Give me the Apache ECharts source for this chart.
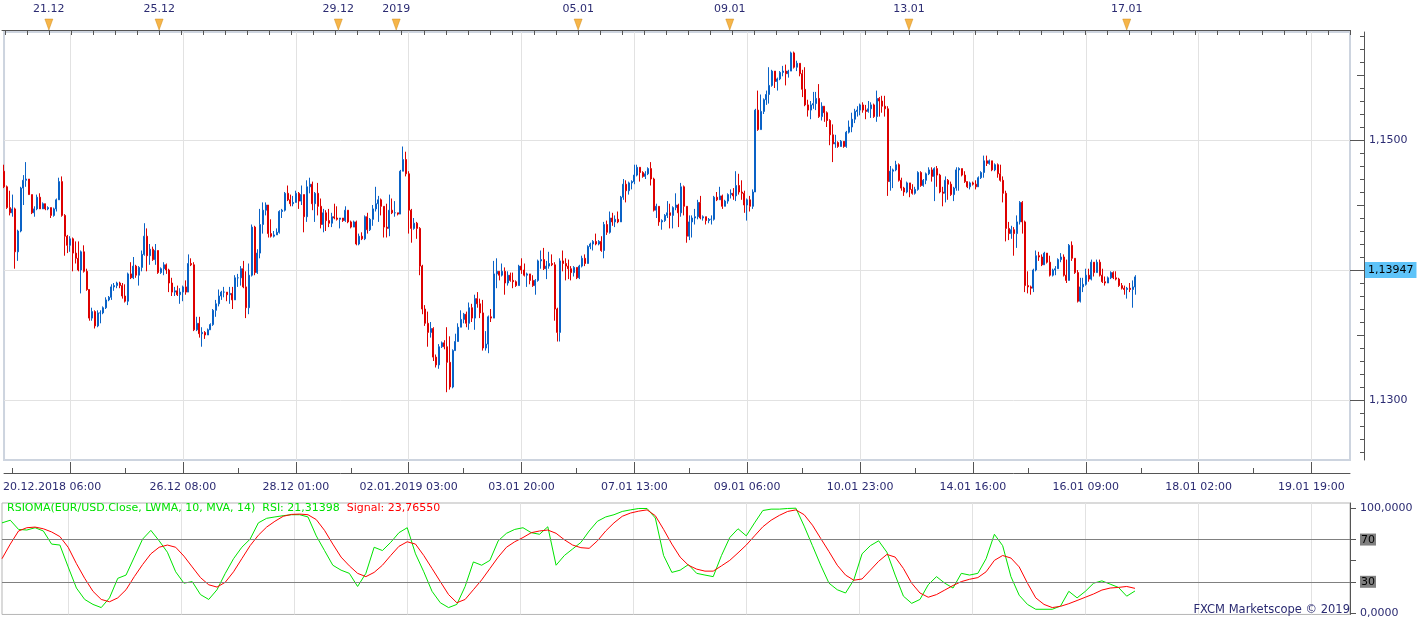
<!DOCTYPE html>
<html>
<head>
<meta charset="utf-8">
<title>EUR/USD H1 - RSIOMA</title>
<script src="https://cdn.jsdelivr.net/npm/echarts@6/dist/echarts.min.js"></script>
<style>
  html, body { margin: 0; padding: 0; background: #fff; }
  #chart { width: 1423px; height: 619px; }
</style>
</head>
<body>
<div id="chart"></div>
<script>
// hourly EUR/USD bars; open of each bar = close of the bar before
const firstOpen = 1.1476;
const closes = [
  1.1464,1.1448,1.1444,1.1447,1.1414,1.1430,1.1463,1.1469,1.1470,1.1458,
  1.1444,1.1447,1.1456,1.1447,1.1451,1.1447,1.1448,1.1442,1.1447,1.1454,
  1.1468,1.1442,1.1426,1.1419,1.1424,1.1413,1.1409,1.1400,1.1414,1.1399,
  1.1385,1.1363,1.1368,1.1357,1.1367,1.1367,1.1371,1.1377,1.1379,1.1387,
  1.1388,1.1390,1.1388,1.1380,1.1376,1.1397,1.1394,1.1403,1.1396,1.1402,
  1.1412,1.1426,1.1411,1.1416,1.1408,1.1415,1.1398,1.1401,1.1404,1.1400,
  1.1390,1.1383,1.1384,1.1381,1.1383,1.1387,1.1383,1.1405,1.1404,1.1354,
  1.1359,1.1351,1.1352,1.1350,1.1354,1.1358,1.1369,1.1374,1.1380,1.1383,
  1.1383,1.1381,1.1382,1.1377,1.1394,1.1394,1.1401,1.1387,1.1371,1.1396,
  1.1433,1.1398,1.1413,1.1435,1.1446,1.1450,1.1428,1.1426,1.1427,1.1429,
  1.1445,1.1446,1.1459,1.1454,1.1451,1.1452,1.1459,1.1453,1.1458,1.1441,
  1.1464,1.1466,1.1451,1.1459,1.1449,1.1435,1.1444,1.1438,1.1436,1.1441,
  1.1440,1.1439,1.1440,1.1438,1.1446,1.1437,1.1433,1.1437,1.1420,1.1426,
  1.1424,1.1441,1.1431,1.1439,1.1447,1.1451,1.1454,1.1449,1.1433,1.1432,
  1.1446,1.1444,1.1444,1.1443,1.1476,1.1485,1.1474,1.1446,1.1432,1.1436,
  1.1432,1.1403,1.1370,1.1359,1.1352,1.1355,1.1333,1.1327,1.1341,1.1344,
  1.1341,1.1329,1.1310,1.1338,1.1345,1.1356,1.1362,1.1366,1.1359,1.1371,
  1.1363,1.1378,1.1374,1.1367,1.1340,1.1343,1.1364,1.1363,1.1397,1.1399,
  1.1396,1.1399,1.1390,1.1396,1.1392,1.1391,1.1388,1.1403,1.1400,1.1396,
  1.1397,1.1392,1.1388,1.1392,1.1407,1.1408,1.1401,1.1403,1.1405,1.1404,
  1.1370,1.1352,1.1407,1.1405,1.1403,1.1401,1.1398,1.1402,1.1394,1.1403,
  1.1409,1.1405,1.1418,1.1420,1.1422,1.1420,1.1422,1.1415,1.1435,1.1429,
  1.1440,1.1437,1.1439,1.1437,1.1456,1.1466,1.1461,1.1467,1.1468,1.1473,
  1.1479,1.1475,1.1472,1.1474,1.1478,1.1470,1.1446,1.1449,1.1437,1.1438,
  1.1442,1.1444,1.1442,1.1448,1.1450,1.1444,1.1464,1.1449,1.1426,1.1437,
  1.1440,1.1441,1.1452,1.1440,1.1441,1.1438,1.1439,1.1439,1.1456,1.1454,
  1.1457,1.1449,1.1453,1.1458,1.1459,1.1457,1.1465,1.1460,1.1459,1.1450,
  1.1454,1.1449,1.1460,1.1523,1.1508,1.1522,1.1531,1.1535,1.1542,1.1553,
  1.1545,1.1547,1.1552,1.1553,1.1551,1.1553,1.1567,1.1556,1.1559,1.1551,
  1.1539,1.1527,1.1523,1.1527,1.1528,1.1532,1.1518,1.1526,1.1521,1.1515,
  1.1504,1.1497,1.1498,1.1495,1.1499,1.1495,1.1506,1.1510,1.1516,1.1522,
  1.1523,1.1527,1.1523,1.1522,1.1524,1.1527,1.1518,1.1532,1.1530,1.1526,
  1.1524,1.1468,1.1476,1.1477,1.1481,1.1469,1.1463,1.1460,1.1467,1.1462,
  1.1459,1.1462,1.1475,1.1465,1.1469,1.1474,1.1477,1.1472,1.1478,1.1473,
  1.1460,1.1459,1.1469,1.1466,1.1458,1.1463,1.1477,1.1478,1.1473,1.1468,
  1.1464,1.1467,1.1466,1.1464,1.1471,1.1475,1.1484,1.1482,1.1484,1.1477,
  1.1481,1.1474,1.1469,1.1459,1.1432,1.1428,1.1431,1.1428,1.1437,1.1452,
  1.1437,1.1388,1.1387,1.1386,1.1400,1.1411,1.1410,1.1404,1.1413,1.1406,
  1.1396,1.1400,1.1401,1.1408,1.1410,1.1396,1.1392,1.1419,1.1409,1.1398,
  1.1376,1.1387,1.1389,1.1396,1.1393,1.1406,1.1398,1.1406,1.1396,1.1391,
  1.1390,1.1394,1.1398,1.1394,1.1393,1.1388,1.1386,1.1385,1.1386,1.1385,
  1.1387,1.13947
];
const highs = [
  1.1481,1.1465,1.1461,1.1458,1.1448,1.1431,1.1464,1.1473,1.1483,1.1470,
  1.1458,1.1449,1.1458,1.1459,1.1452,1.1451,1.1449,1.1448,1.1448,1.1455,
  1.1471,1.1472,1.1443,1.1427,1.1426,1.1425,1.1422,1.1422,1.1415,1.1419,
  1.1401,1.1385,1.1371,1.1369,1.1369,1.1369,1.1372,1.1379,1.1380,1.1389,
  1.1390,1.1391,1.1391,1.1390,1.1389,1.1398,1.1406,1.1410,1.1404,1.1403,
  1.1415,1.1436,1.1432,1.1420,1.1418,1.1420,1.1415,1.1402,1.1406,1.1405,
  1.1401,1.1394,1.1387,1.1388,1.1386,1.1388,1.1392,1.1412,1.1409,1.1406,
  1.1364,1.1364,1.1356,1.1353,1.1355,1.1359,1.1370,1.1377,1.1385,1.1384,
  1.1387,1.1383,1.1387,1.1387,1.1396,1.1397,1.1403,1.1407,1.1399,1.1405,
  1.1435,1.1434,1.1416,1.1447,1.1452,1.1452,1.1447,1.1439,1.1430,1.1432,
  1.1446,1.1447,1.1460,1.1465,1.1458,1.1457,1.1461,1.1460,1.1465,1.1457,
  1.1469,1.1471,1.1468,1.1460,1.1467,1.1455,1.1447,1.1446,1.1447,1.1444,
  1.1451,1.1449,1.1440,1.1440,1.1449,1.1446,1.1438,1.1438,1.1438,1.1428,
  1.1429,1.1442,1.1444,1.1440,1.1450,1.1464,1.1457,1.1455,1.1447,1.1451,
  1.1458,1.1455,1.1453,1.1444,1.1477,1.1495,1.1491,1.1476,1.1447,1.1440,
  1.1437,1.1433,1.1404,1.1373,1.1368,1.1360,1.1356,1.1335,1.1343,1.1345,
  1.1346,1.1356,1.1349,1.1339,1.1351,1.1359,1.1369,1.1367,1.1368,1.1375,
  1.1374,1.1381,1.1383,1.1378,1.1377,1.1353,1.1365,1.1370,1.1407,1.1409,
  1.1399,1.1405,1.1402,1.1399,1.1398,1.1398,1.1392,1.1404,1.1409,1.1405,
  1.1398,1.1397,1.1396,1.1393,1.1408,1.1415,1.1417,1.1407,1.1414,1.1412,
  1.1406,1.1371,1.1409,1.1415,1.1409,1.1408,1.1403,1.1403,1.1402,1.1404,
  1.1411,1.1412,1.1419,1.1421,1.1423,1.1428,1.1423,1.1426,1.1437,1.1438,
  1.1445,1.1444,1.1442,1.1445,1.1457,1.1470,1.1469,1.1468,1.1469,1.1481,
  1.1481,1.1479,1.1476,1.1476,1.1479,1.1483,1.1471,1.1451,1.1449,1.1439,
  1.1443,1.1453,1.1451,1.1449,1.1459,1.1451,1.1467,1.1465,1.1449,1.1442,
  1.1442,1.1447,1.1454,1.1457,1.1442,1.1441,1.1440,1.1442,1.1457,1.1460,
  1.1464,1.1458,1.1454,1.1459,1.1462,1.1463,1.1476,1.1474,1.1469,1.1461,
  1.1455,1.1457,1.1462,1.1524,1.1538,1.1535,1.1532,1.1538,1.1556,1.1554,
  1.1553,1.1548,1.1553,1.1557,1.1558,1.1554,1.1568,1.1568,1.1561,1.1559,
  1.1554,1.1556,1.1531,1.1530,1.1537,1.1537,1.1543,1.1529,1.1526,1.1522,
  1.1516,1.1512,1.1504,1.1499,1.1500,1.1499,1.1507,1.1515,1.1521,1.1524,
  1.1526,1.1528,1.1529,1.1527,1.1530,1.1529,1.1528,1.1538,1.1533,1.1534,
  1.1534,1.1526,1.1480,1.1478,1.1484,1.1482,1.1471,1.1464,1.1468,1.1463,
  1.1466,1.1464,1.1476,1.1476,1.1470,1.1475,1.1479,1.1479,1.1479,1.1480,
  1.1474,1.1464,1.1472,1.1470,1.1468,1.1464,1.1479,1.1479,1.1478,1.1476,
  1.1468,1.1468,1.1468,1.1469,1.1472,1.1476,1.1488,1.1488,1.1485,1.1484,
  1.1482,1.1482,1.1481,1.1472,1.1461,1.1437,1.1434,1.1433,1.1442,1.1453,
  1.1453,1.1438,1.1399,1.1388,1.1401,1.1415,1.1414,1.1412,1.1414,1.1413,
  1.1411,1.1401,1.1403,1.1409,1.1413,1.1412,1.1408,1.1420,1.1422,1.1409,
  1.1400,1.1394,1.1394,1.1401,1.1401,1.1408,1.1406,1.1408,1.1408,1.1401,
  1.1395,1.1395,1.1399,1.1399,1.1399,1.1394,1.1390,1.1388,1.1387,1.1390,
  1.1392,1.1396
];
const lows = [
  1.1463,1.1447,1.1442,1.1441,1.1401,1.1407,1.1429,1.1450,1.1464,1.1458,
  1.1443,1.1441,1.1446,1.1447,1.1447,1.1446,1.1446,1.1440,1.1441,1.1445,
  1.1454,1.1441,1.1411,1.1413,1.1414,1.1399,1.1405,1.1399,1.1382,1.1398,
  1.1384,1.1361,1.1361,1.1355,1.1356,1.1359,1.1366,1.1370,1.1376,1.1377,
  1.1384,1.1386,1.1386,1.1378,1.1375,1.1373,1.1393,1.1393,1.1394,1.1388,
  1.1399,1.1411,1.1399,1.1404,1.1407,1.1404,1.1397,1.1397,1.1396,1.1397,
  1.1383,1.1380,1.1380,1.1380,1.1374,1.1376,1.1381,1.1383,1.1403,1.1353,
  1.1353,1.1348,1.1341,1.1347,1.1350,1.1354,1.1357,1.1364,1.1372,1.1377,
  1.1379,1.1376,1.1374,1.1370,1.1377,1.1387,1.1388,1.1386,1.1363,1.1366,
  1.1395,1.1396,1.1397,1.1409,1.1428,1.1442,1.1425,1.1425,1.1425,1.1427,
  1.1428,1.1440,1.1445,1.1453,1.1449,1.1449,1.1452,1.1447,1.1450,1.1429,
  1.1437,1.1459,1.1446,1.1437,1.1442,1.1432,1.1429,1.1430,1.1433,1.1433,
  1.1439,1.1438,1.1432,1.1437,1.1437,1.1436,1.1432,1.1433,1.1419,1.1419,
  1.1423,1.1423,1.1428,1.1430,1.1434,1.1445,1.1437,1.1442,1.1425,1.1425,
  1.1426,1.1443,1.1441,1.1442,1.1443,1.1476,1.1472,1.1428,1.1421,1.1431,
  1.1424,1.1396,1.1366,1.1357,1.1341,1.1348,1.1330,1.1325,1.1324,1.1340,
  1.1339,1.1306,1.1308,1.1309,1.1338,1.1345,1.1356,1.1359,1.1356,1.1354,
  1.1360,1.1354,1.1371,1.1363,1.1338,1.1338,1.1336,1.1360,1.1363,1.1386,
  1.1392,1.1395,1.1381,1.1388,1.1391,1.1386,1.1387,1.1388,1.1397,1.1395,
  1.1387,1.1389,1.1387,1.1381,1.1391,1.1401,1.1400,1.1393,1.1401,1.1403,
  1.1361,1.1345,1.1345,1.1399,1.1392,1.1393,1.1392,1.1395,1.1393,1.1393,
  1.1402,1.1403,1.1407,1.1416,1.1415,1.1419,1.1419,1.1414,1.1409,1.1427,
  1.1428,1.1434,1.1433,1.1436,1.1437,1.1454,1.1452,1.1458,1.1462,1.1466,
  1.1472,1.1468,1.1471,1.1470,1.1473,1.1465,1.1445,1.1440,1.1434,1.1431,
  1.1437,1.1440,1.1432,1.1432,1.1446,1.1433,1.1441,1.1442,1.1421,1.1423,
  1.1425,1.1435,1.1439,1.1439,1.1438,1.1435,1.1436,1.1435,1.1438,1.1453,
  1.1454,1.1447,1.1449,1.1451,1.1455,1.1454,1.1453,1.1458,1.1454,1.1444,
  1.1438,1.1445,1.1447,1.1460,1.1507,1.1508,1.1520,1.1527,1.1528,1.1541,
  1.1540,1.1538,1.1546,1.1549,1.1542,1.1548,1.1553,1.1555,1.1553,1.1549,
  1.1533,1.1526,1.1518,1.1516,1.1524,1.1523,1.1517,1.1515,1.1514,1.1510,
  1.1496,1.1483,1.1494,1.1494,1.1495,1.1494,1.1494,1.1505,1.1506,1.1513,
  1.1518,1.1519,1.1521,1.1516,1.1521,1.1517,1.1517,1.1514,1.1518,1.1521,
  1.1518,1.1457,1.1461,1.1463,1.1476,1.1468,1.1461,1.1457,1.1459,1.1456,
  1.1458,1.1458,1.1461,1.1464,1.1464,1.1466,1.1473,1.1468,1.1453,1.1464,
  1.1459,1.1449,1.1452,1.1454,1.1457,1.1453,1.1461,1.1461,1.1472,1.1467,
  1.1463,1.1462,1.1465,1.1462,1.1464,1.1470,1.1471,1.1480,1.1481,1.1476,
  1.1476,1.1471,1.1468,1.1452,1.1422,1.1423,1.1424,1.1411,1.1417,1.1435,
  1.1428,1.1383,1.1382,1.1381,1.1383,1.1399,1.1407,1.1403,1.1404,1.1405,
  1.1395,1.1395,1.1396,1.1401,1.1406,1.1395,1.1390,1.1392,1.1407,1.1397,
  1.1375,1.1375,1.1383,1.1388,1.1391,1.1392,1.1395,1.1398,1.1395,1.1390,
  1.1388,1.1390,1.1393,1.1393,1.1392,1.1387,1.1385,1.1381,1.1378,1.1383,
  1.1371,1.1381
];
const lastPrice = 1.13947;

// RSIOMA lines, one reading every 3 bars
const rsiStep = 3;
const rsiValues = [
  85.8,88.3,79.6,79,81.2,78.1,65.7,64.8,44.1,24.1,
  13.3,8.6,5.6,14.8,33.3,36.4,53.4,70.4,78.7,68.8,
  58,39.5,28.7,30.2,17.9,13.3,22.5,38,51.9,62.7,
  70.4,85.8,90.1,91.4,92.6,93.5,93.5,91.4,73.5,59.6,
  45.7,41,38,25.6,38,62.7,59.6,67.3,76.5,81.2,
  56.5,39.5,21,10.2,5.6,8.6,25.6,48.8,45.7,50.3,
  68.8,75.9,79.6,81.2,76.5,75,82.1,45.7,54.9,61.1,
  67.3,78.1,87.3,91.4,93.5,96.6,98.1,99.4,99.4,90.4,
  54.9,38.9,41,46.3,38,36.4,34.9,54.9,71.9,80.2,
  73.5,85.8,97.5,98.8,98.8,99.4,99.7,82.7,64.2,45.7,
  28.7,22.5,19.4,31.8,56.5,64.2,68.8,58,36.4,16.4,
  9.6,13.3,27.2,34.9,28.7,24.1,38,36.4,38,51.9,
  75,64.2,34.9,17.3,8.6,4,4,4,7.1,21,
  14.8,21,28.7,30.9,27.8,24.7,16.4,21.3
];
const signalValues = [
  51.9,65.7,78.1,81.2,81.8,80.2,77.2,72.8,62.7,47.2,
  33.3,21,13.3,11.1,14.8,22.5,34.9,46.3,56.5,62.7,
  64.8,62.7,54.3,44.1,34,27.2,25,29.6,39.5,51.9,
  64.2,74.1,81.8,87.3,92,93.8,94.1,93.5,88.9,78.7,
  65.7,53.4,45.1,38,34.9,38.9,45.7,54.9,63.6,67.9,
  65.7,54.9,42.6,30.2,17.9,10.2,13.3,22.5,31.8,42.6,
  53.4,62.7,67.9,71.9,76.5,78.1,79,75.9,69.8,64.8,
  62.3,61.7,68.8,78.1,85.8,92,95.1,96.9,98.1,92.6,
  79.6,65.7,53.4,45.7,42,40.1,40.1,45.1,50.3,57.4,
  64.8,73.5,82.1,88.3,92.9,96.6,98.1,93.5,83.6,71,
  58.6,45.7,36.4,31.5,32.7,41,49.4,55.9,53.4,42.6,
  28.7,19.4,15.4,17.9,22.2,26.5,30.2,32.4,34,39.5,
  50.3,54.9,52.5,44.1,28.7,14.8,8.6,5.6,6.8,9.3,
  12.3,15.4,18.5,22.2,24.1,24.7,25.6,23.8
];

const timeLabels = ['20.12.2018 06:00', '26.12 08:00', '28.12 01:00', '02.01.2019 03:00', '03.01 20:00',
  '07.01 13:00', '09.01 06:00', '10.01 23:00', '14.01 16:00', '16.01 09:00', '18.01 02:00', '19.01 19:00'];
const dayIdx = [17, 57, 122, 143, 209, 264, 329, 408];
const dayLabels = ['21.12', '25.12', '29.12', '2019', '05.01', '09.01', '13.01', '17.01'];
const priceLabels = [1.13, 1.14, 1.15];
const priceMidTicks = [1.135, 1.145, 1.155];
const rsiLabels = [0, 30, 70, 100];
const rsiTicks = [0, 30, 50, 70, 100];

const slots = 490; // visible hourly slots, incl. empty future ones
const firstGrid = 24, gridStep = 41;

const slotData = [];
for (let i = 0; i < slots; i++) slotData.push(String(i));

const priceMinorTicks = [];
for (let v = 1126; v <= 1158; v++) priceMinorTicks.push(v / 1000);

const ohlc = closes.map((c, i) => {
  const o = i ? closes[i - 1] : firstOpen;
  return [o, c, Math.min(lows[i], o, c), Math.max(highs[i], o, c)];
});

const isMajor = (i) => i >= firstGrid && (i - firstGrid) % gridStep === 0;
const isMinor = (i) => ((i - firstGrid - 20) % gridStep + gridStep) % gridStep === 0;

const font = 'DejaVu Sans, Verdana, sans-serif';
const navy = '#2b2b72';
const axisGray = '#555555';
const gridGray = '#e2e2e2';
const up = '#0a62c6', down = '#dd0000';

const chart = echarts.init(document.getElementById('chart'));
chart.setOption({
  animation: false,
  backgroundColor: '#ffffff',
  textStyle: { fontFamily: font },
  title: [
    {
      text: '{g|RSIOMA(EUR/USD.Close, LWMA, 10, MVA, 14)  RSI: 21,31398}{r|  Signal: 23,76550}',
      left: 7, top: 503, padding: 0,
      textStyle: {
        fontSize: 11, fontWeight: 'normal', fontFamily: font,
        rich: {
          g: { color: '#00e000', fontSize: 11, fontFamily: font },
          r: { color: '#ff0000', fontSize: 11, fontFamily: font }
        }
      }
    },
    {
      text: 'FXCM Marketscope \u00a9 2019',
      right: 73, bottom: 3, padding: 0,
      textStyle: { color: navy, fontSize: 11.5, fontWeight: 'normal', fontFamily: font }
    }
  ],
  grid: [
    { left: 2, right: 73, top: 32, height: 428, show: true, borderColor: '#cdd4df', borderWidth: 2 },
    { left: 2, right: 73, top: 19, height: 11 },
    { left: 2, right: 73, top: 503, height: 114, show: true, borderColor: '#b5b5b5', borderWidth: 1 }
  ],
  xAxis: [
    {
      type: 'category', gridIndex: 0, data: slotData, boundaryGap: false, position: 'bottom', offset: 13,
      axisLine: { lineStyle: { color: axisGray } },
      axisTick: { inside: true, length: 11, interval: isMajor, lineStyle: { color: axisGray } },
      axisLabel: {
        interval: isMajor, color: navy, fontSize: 11, margin: 9,
        formatter: (v) => {
          const k = (Number(v) - firstGrid) / gridStep;
          return k === 0 ? '{first|' + timeLabels[0] + '}' : timeLabels[k];
        },
        rich: { first: { color: navy, fontSize: 11, fontFamily: font, padding: [0, 36, 0, 0] } }
      },
      splitLine: { show: true, interval: isMajor, lineStyle: { color: gridGray } }
    },
    {
      type: 'category', gridIndex: 0, data: slotData, boundaryGap: false, position: 'bottom', offset: 13,
      axisLine: { show: false },
      axisTick: { inside: true, length: 5, interval: isMinor, lineStyle: { color: axisGray } },
      axisLabel: { show: false },
      splitLine: { show: false }
    },
    {
      type: 'category', gridIndex: 1, data: slotData, boundaryGap: false, position: 'top',
      axisLine: { lineStyle: { color: axisGray } },
      axisTick: { inside: true, length: 5, interval: (i) => i % 8 === 1, lineStyle: { color: axisGray } },
      axisLabel: {
        interval: (i) => dayIdx.indexOf(i) >= 0, color: navy, fontSize: 11, margin: 4,
        formatter: (v) => dayLabels[dayIdx.indexOf(Number(v))]
      },
      splitLine: { show: false }
    },
    {
      type: 'category', gridIndex: 2, data: slotData, boundaryGap: false,
      axisLine: { show: false }, axisTick: { show: false }, axisLabel: { show: false },
      splitLine: { show: true, interval: isMajor, lineStyle: { color: gridGray } }
    }
  ],
  yAxis: [
    {
      type: 'value', gridIndex: 0, position: 'right', offset: 14, min: 1.125385, max: 1.158308,
      axisLine: { show: true, lineStyle: { color: axisGray } },
      axisTick: { show: true, inside: true, length: 14, customValues: priceLabels, lineStyle: { color: axisGray } },
      axisLabel: {
        customValues: priceLabels, color: navy, fontSize: 11, margin: 5,
        formatter: (v) => v.toFixed(4).replace('.', ',')
      },
      splitLine: { show: true, lineStyle: { color: gridGray } }
    },
    {
      type: 'value', gridIndex: 0, position: 'right', offset: 14, min: 1.125385, max: 1.158308,
      axisLine: { show: false },
      axisTick: { show: true, inside: true, length: 7, customValues: priceMidTicks, lineStyle: { color: axisGray } },
      axisLabel: { show: false }, splitLine: { show: false }
    },
    {
      type: 'value', gridIndex: 0, position: 'right', offset: 14, min: 1.125385, max: 1.158308,
      axisLine: { show: false },
      axisTick: { show: true, inside: true, length: 4, customValues: priceMinorTicks, lineStyle: { color: axisGray } },
      axisLabel: { show: false }, splitLine: { show: false }
    },
    { type: 'value', gridIndex: 1, min: 0, max: 1, show: false },
    {
      type: 'value', gridIndex: 2, position: 'right', min: -0.9, max: 104.6,
      axisLine: { show: true, lineStyle: { color: axisGray } },
      axisTick: { show: true, length: 6, customValues: rsiTicks, lineStyle: { color: axisGray } },
      axisLabel: {
        customValues: rsiLabels, color: navy, fontSize: 11, margin: 10,
        formatter: (v) => v === 100 ? '100,0000' : v === 0 ? '0,0000' : '{b|' + v + '}',
        rich: { b: { backgroundColor: '#808080', color: '#000', fontSize: 11, fontFamily: font, padding: [1, 1, 0, 1] } }
      },
      splitLine: { show: false }
    }
  ],
  series: [
    {
      type: 'candlestick', xAxisIndex: 0, yAxisIndex: 0, data: ohlc, barWidth: 1.5,
      itemStyle: { color: up, color0: down, borderColor: up, borderColor0: down, borderWidth: 1 },
      markLine: {
        silent: true, symbol: 'none', animation: false,
        data: [{ yAxis: lastPrice }],
        lineStyle: { color: 'rgba(0,0,0,0)', width: 0 },
        label: {
          position: 'end', distance: 15, formatter: '1,13947', color: '#000', fontSize: 11,
          backgroundColor: '#5ec3f8', padding: [3, 3, 2, 3]
        }
      }
    },
    {
      type: 'scatter', xAxisIndex: 2, yAxisIndex: 3, silent: true,
      data: dayIdx.map((i) => [i, 0.5]),
      symbol: 'triangle', symbolRotate: 180, symbolSize: [8, 11],
      itemStyle: { color: '#f4a21c', borderColor: '#c97d00', borderWidth: 0.5 }
    },
    {
      type: 'line', name: 'RSI', xAxisIndex: 3, yAxisIndex: 4, symbol: 'none',
      data: rsiValues.map((v, k) => [k * rsiStep, v]),
      lineStyle: { color: '#00e400', width: 1 },
      markLine: {
        silent: true, symbol: 'none', label: { show: false }, animation: false,
        lineStyle: { color: '#808080', width: 1, type: 'solid' },
        data: [{ yAxis: 70 }, { yAxis: 30 }]
      }
    },
    {
      type: 'line', name: 'Signal', xAxisIndex: 3, yAxisIndex: 4, symbol: 'none',
      data: signalValues.map((v, k) => [k * rsiStep, v]),
      lineStyle: { color: '#ff0000', width: 1 }
    }
  ]
});
</script>
</body>
</html>
